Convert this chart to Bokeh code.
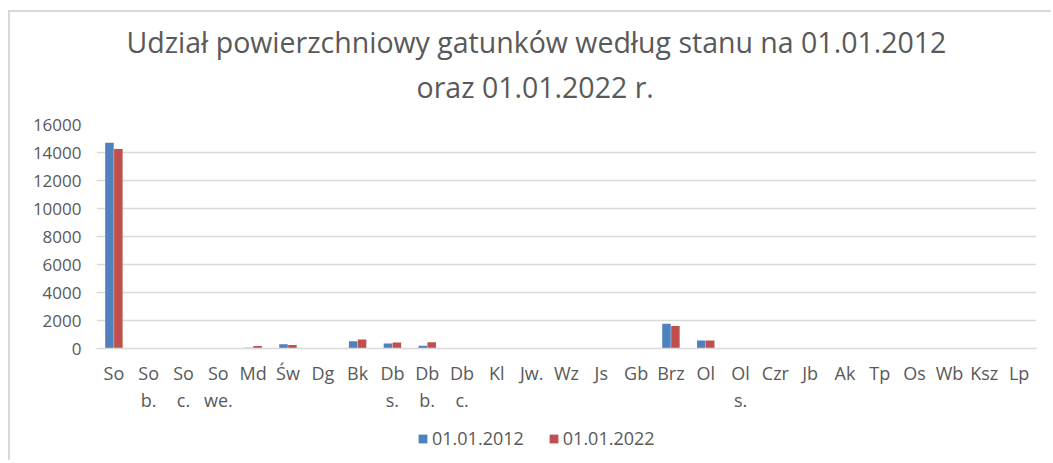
from bokeh.plotting import figure
from bokeh.layouts import column
from bokeh.models import (ColumnDataSource, Range1d, Title, Legend, LegendItem,
                          SingleIntervalTicker, FixedTicker, LinearAxis)
from bokeh.transform import dodge
from bokeh.embed import file_html
from bokeh.resources import INLINE

categories = ["So", "So b.", "So c.", "So we.", "Md", "Św", "Dg", "Bk", "Db s.",
              "Db b.", "Db c.", "Kl", "Jw.", "Wz", "Js", "Gb", "Brz", "Ol", "Ol s.",
              "Czr", "Jb", "Ak", "Tp", "Os", "Wb", "Ksz", "Lp"]
values_2012 = [14700, 0, 0, 0, 50, 300, 0, 520, 360, 200, 0, 0, 0, 0, 0, 0,
               1760, 580, 0, 0, 0, 0, 0, 0, 0, 0, 0]
values_2022 = [14250, 0, 0, 0, 180, 250, 0, 650, 420, 450, 0, 0, 0, 0, 0, 0,
               1600, 580, 0, 0, 0, 0, 0, 0, 0, 0, 0]
series_names = ["01.01.2012", "01.01.2022"]
title_lines = ["Udział powierzchniowy gatunków według stanu na 01.01.2012",
               "oraz 01.01.2022 r."]

BLUE = "#4F81BD"
RED = "#C0504D"
TXT = "#595959"
GRID = "#d9d9d9"
FONT = "Open Sans"

pos = list(range(len(categories)))
src = ColumnDataSource(dict(x=pos, a=values_2012, b=values_2022))

p = figure(x_range=Range1d(-0.5, len(categories) - 0.5), y_range=Range1d(0, 16000),
           frame_width=940, frame_height=224, output_backend="svg",
           toolbar_location=None, title=None, x_axis_type=None,
           min_border_left=86, min_border_right=15,
           min_border_top=112, min_border_bottom=72)
p.outline_line_color = None

r1 = p.vbar(x=dodge("x", -0.128), top="a", width=0.245,
            source=src, fill_color=BLUE, line_color=None)
r2 = p.vbar(x=dodge("x", 0.128), top="b", width=0.245,
            source=src, fill_color=RED, line_color=None)

p.add_layout(Title(text=title_lines[1], align="left", text_font=FONT,
                   text_font_size="28.5px", text_font_style="normal",
                   text_color=TXT, standoff=38, offset=320), "above")
p.add_layout(Title(text=title_lines[0], align="left", text_font=FONT,
                   text_font_size="28.5px", text_font_style="normal",
                   text_color=TXT, standoff=-28, offset=30), "above")

p.yaxis.ticker = SingleIntervalTicker(interval=2000)
p.yaxis.axis_line_color = None
p.yaxis.major_tick_line_color = None
p.yaxis.major_tick_out = 0
p.yaxis.major_tick_in = 0
p.yaxis.minor_tick_line_color = None
p.yaxis.major_label_text_font = FONT
p.yaxis.major_label_text_font_size = "17px"
p.yaxis.major_label_text_color = TXT
p.yaxis.major_label_standoff = 11

ax1 = LinearAxis(ticker=FixedTicker(ticks=pos), axis_line_color=GRID,
                 axis_line_width=1.5, major_tick_line_color=None,
                 minor_tick_line_color=None, major_tick_out=0, major_tick_in=0,
                 major_label_text_font=FONT, major_label_text_font_size="18px",
                 major_label_text_color=TXT, major_label_standoff=12,
                 major_label_overrides={i: c.split(" ")[0] for i, c in enumerate(categories)})
p.add_layout(ax1, "below")
ax2 = LinearAxis(ticker=FixedTicker(ticks=pos), axis_line_color=None,
                 major_tick_line_color=None, minor_tick_line_color=None,
                 major_tick_out=0, major_tick_in=0,
                 major_label_text_font=FONT, major_label_text_font_size="18px",
                 major_label_text_color=TXT, major_label_standoff=0,
                 major_label_overrides={i: (c.split(" ")[1] if " " in c else " ")
                                        for i, c in enumerate(categories)})
p.add_layout(ax2, "below")

p.xgrid.grid_line_color = None
p.ygrid.grid_line_color = GRID
p.ygrid.grid_line_width = 1.5

# legend strip: same data, ranges set out of view so only the legend swatches show
p_leg = figure(x_range=Range1d(1000, 1001), y_range=Range1d(20000, 20001),
               width=1041, height=40, output_backend="svg", toolbar_location=None,
               x_axis_type=None, y_axis_type=None, min_border=0)
p_leg.outline_line_color = None
p_leg.xgrid.visible = False
p_leg.ygrid.visible = False
l1 = p_leg.vbar(x="x", top="a", width=0.245, source=src, fill_color=BLUE, line_color=None)
l2 = p_leg.vbar(x="x", top="b", width=0.245, source=src, fill_color=RED, line_color=None)
legend = Legend(items=[LegendItem(label=series_names[0], renderers=[l1]),
                       LegendItem(label=series_names[1], renderers=[l2])],
                orientation="horizontal", location=(321, 10),
                label_text_font=FONT, label_text_font_size="18px",
                label_text_color=TXT, glyph_width=11, glyph_height=11,
                label_standoff=4, spacing=24, border_line_color=None,
                background_fill_alpha=0, padding=2, margin=0)
p_leg.add_layout(legend)

layout = column(p, p_leg, spacing=0,
                styles={"margin-left": "8px", "margin-top": "10px",
                        "border-top": "2px solid #d9d9d9",
                        "border-left": "2px solid #d9d9d9"})

with open("out.html", "w") as f:
    f.write(file_html(layout, INLINE))
